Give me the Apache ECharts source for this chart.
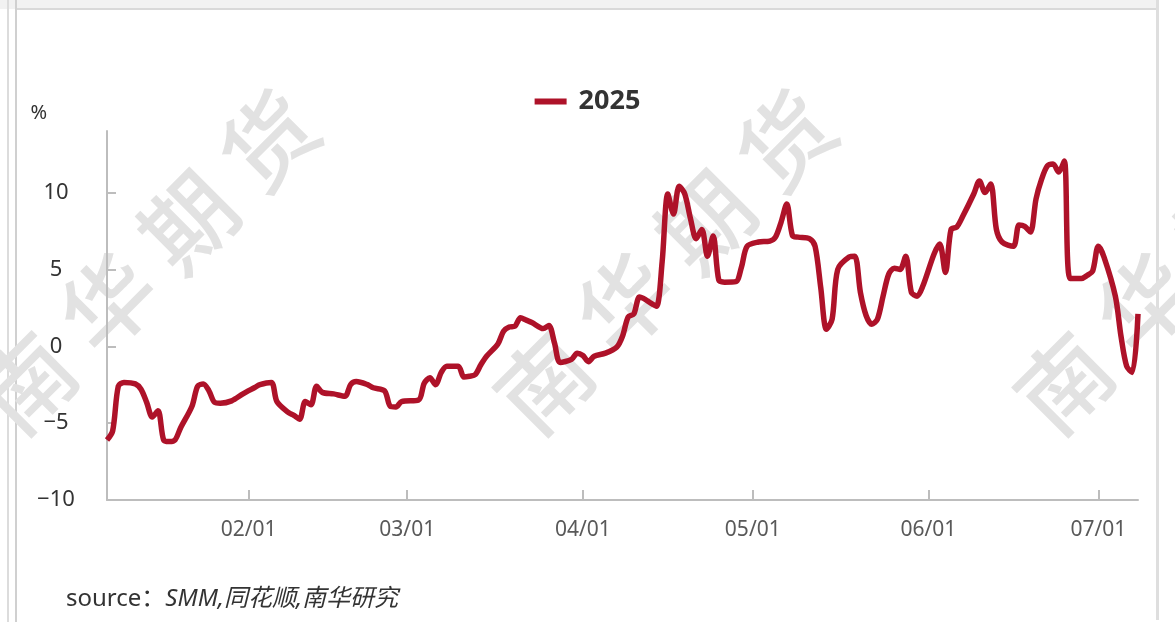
<!DOCTYPE html>
<html>
<head>
<meta charset="utf-8">
<script src="https://cdn.jsdelivr.net/npm/echarts@6/dist/echarts.min.js"></script>
<style>
html,body{margin:0;padding:0;background:#fff;}
#chart{width:1175px;height:622px;}
</style>
</head>
<body>
<div id="chart"></div>
<script>
const seriesName = '2025';
const dates = [
 '2025-01-07','2025-01-08','2025-01-09','2025-01-10','2025-01-12','2025-01-13','2025-01-14','2025-01-15','2025-01-16','2025-01-17',
 '2025-01-18','2025-01-19','2025-01-20','2025-01-22','2025-01-23','2025-01-24','2025-01-25','2025-01-26','2025-01-27','2025-01-29',
 '2025-01-31','2025-02-02','2025-02-03','2025-02-05','2025-02-06','2025-02-08','2025-02-09','2025-02-10','2025-02-11','2025-02-12',
 '2025-02-13','2025-02-14','2025-02-16','2025-02-18','2025-02-19','2025-02-20','2025-02-22','2025-02-23','2025-02-25','2025-02-26',
 '2025-02-27','2025-02-28','2025-03-03','2025-03-04','2025-03-05','2025-03-06','2025-03-07','2025-03-08','2025-03-10','2025-03-11',
 '2025-03-12','2025-03-13','2025-03-14','2025-03-15','2025-03-17','2025-03-18','2025-03-19','2025-03-20','2025-03-21','2025-03-22',
 '2025-03-23','2025-03-25','2025-03-26','2025-03-27','2025-03-28','2025-03-30','2025-03-31','2025-04-01','2025-04-02','2025-04-03',
 '2025-04-05','2025-04-07','2025-04-08','2025-04-09','2025-04-10','2025-04-11','2025-04-12','2025-04-13','2025-04-14','2025-04-15',
 '2025-04-16','2025-04-17','2025-04-18','2025-04-19','2025-04-20','2025-04-21','2025-04-22','2025-04-23','2025-04-24','2025-04-25',
 '2025-04-26','2025-04-28','2025-04-29','2025-04-30','2025-05-02','2025-05-04','2025-05-05','2025-05-06','2025-05-07','2025-05-08',
 '2025-05-09','2025-05-11','2025-05-12','2025-05-13','2025-05-14','2025-05-15','2025-05-16','2025-05-18','2025-05-19','2025-05-20',
 '2025-05-21','2025-05-22','2025-05-23','2025-05-24','2025-05-25','2025-05-26','2025-05-27','2025-05-28','2025-05-29','2025-05-30',
 '2025-05-31','2025-06-02','2025-06-03','2025-06-04','2025-06-05','2025-06-06','2025-06-07','2025-06-09','2025-06-10','2025-06-11',
 '2025-06-12','2025-06-13','2025-06-14','2025-06-16','2025-06-17','2025-06-18','2025-06-19','2025-06-20','2025-06-21','2025-06-22',
 '2025-06-23','2025-06-24','2025-06-25','2025-06-26','2025-06-28','2025-06-29','2025-06-30','2025-07-01','2025-07-02','2025-07-04',
 '2025-07-05','2025-07-06','2025-07-07','2025-07-08'
];
const values = [
 -6.1,-5.5,-2.6,-2.35,-2.45,-2.8,-3.65,-4.6,-4.2,-6.1,
 -6.2,-6.1,-5.3,-3.9,-2.6,-2.45,-2.9,-3.65,-3.7,-3.55,
 -3.1,-2.7,-2.5,-2.35,-3.6,-4.3,-4.5,-4.75,-3.6,-3.8,
 -2.6,-3.0,-3.1,-3.25,-2.5,-2.3,-2.5,-2.7,-2.9,-3.9,
 -3.95,-3.6,-3.5,-2.4,-2.05,-2.5,-1.7,-1.3,-1.3,-2.0,
 -1.95,-1.85,-1.2,-0.65,0.15,0.98,1.25,1.3,1.85,1.7,
 1.55,1.15,1.35,0.2,-1.05,-0.85,-0.45,-0.6,-1.0,-0.65,
 -0.45,-0.05,0.65,1.9,2.1,3.2,3.05,2.8,2.6,5.5,
 9.9,8.6,10.4,9.9,8.3,7.0,7.6,5.86,7.17,4.3,
 4.17,4.2,5.15,6.5,6.78,6.84,7.1,8.08,9.25,7.2,
 7.1,7.0,6.5,3.8,1.1,1.76,5.0,5.8,5.86,3.5,
 2.0,1.43,1.76,3.26,4.69,5.08,5.0,5.86,3.5,3.26,
 3.9,6.0,6.65,4.8,7.6,7.75,8.4,9.9,10.75,10.0,
 10.55,7.6,6.78,6.5,7.88,7.8,7.43,9.58,10.88,11.73,
 11.86,11.33,12.05,4.4,4.4,4.6,4.9,6.5,5.8,3.26,
 0.65,-1.3,-1.7,2.1
];
const axisStart = '2025-01-07';
const axisEnd = '2025-07-08';
const monthTicks = ['2025-02-01','2025-03-01','2025-04-01','2025-05-01','2025-06-01','2025-07-01'];
const yTicks = [-10,-5,0,5,10];
const watermarkText = '南华期货';
const sourceLabel = 'source：';
const sourceText = 'SMM,同花顺,南华研究';

function fmt(d) {
  return d.getUTCFullYear() + '-' + String(d.getUTCMonth() + 1).padStart(2, '0') + '-' + String(d.getUTCDate()).padStart(2, '0');
}
const categories = [];
for (let t = Date.parse(axisStart + 'T00:00:00Z'); t <= Date.parse(axisEnd + 'T00:00:00Z'); t += 86400000) {
  categories.push(fmt(new Date(t)));
}
const valueByDate = {};
dates.forEach((d, i) => { valueByDate[d] = values[i]; });
const seriesData = categories.map(c => (c in valueByDate ? valueByDate[c] : null));
const tickSet = new Set(monthTicks);

const chart = echarts.init(document.getElementById('chart'));
const lineColor = '#ae1229';

function watermark(cx, cy) {
  const chars = watermarkText.split('');
  return {
    type: 'group', x: cx, y: cy, rotation: Math.PI / 4, silent: true, z: 0,
    children: chars.map((c, i) => ({
      type: 'text', x: (i - 1.5) * 114, y: 0,
      style: { text: c, font: '500 92px "Noto Sans CJK SC"', fill: '#e2e2e2', align: 'center', verticalAlign: 'middle' }
    }))
  };
}

chart.setOption({
  animation: false,
  backgroundColor: '#fff',
  graphic: [
    { type: 'rect', shape: { x: 0, y: 0, width: 1157, height: 9 }, style: { fill: '#f2f2f2' }, z: 0, silent: true },
    { type: 'rect', shape: { x: 17, y: 8, width: 1140, height: 2 }, style: { fill: '#d9d9d9' }, z: 0, silent: true },
    { type: 'rect', shape: { x: 7, y: 0, width: 2, height: 622 }, style: { fill: '#dcdcdc' }, z: 0, silent: true },
    { type: 'rect', shape: { x: 15, y: 0, width: 2, height: 622 }, style: { fill: '#d0d0d0' }, z: 0, silent: true },
    { type: 'rect', shape: { x: 1156, y: 0, width: 3, height: 620 }, style: { fill: '#dedede' }, z: 0, silent: true },
    watermark(148, 262),
    watermark(665, 262),
    watermark(1185, 262),
    {
      type: 'text', left: 66, top: 587, silent: true,
      style: {
        text: '{a|' + sourceLabel + '}{b|' + sourceText + '}',
        rich: {
          a: { font: '24px "Noto Sans", "Noto Sans CJK SC"', fill: '#333' },
          b: { font: 'italic 24px "Noto Sans", "Noto Sans CJK SC"', fill: '#333' }
        }
      }
    }
  ],
  legend: {
    top: 83, left: 'center',
    itemWidth: 32, itemHeight: 14,
    textStyle: { fontFamily: 'Noto Sans', fontSize: 27, fontWeight: 'bold', color: '#333', padding: [0, 0, 0, 7] },
    data: [{ name: seriesName, icon: 'path://M0,0H32V6H0Z' }]
  },
  grid: { left: 107, right: 37, top: 131, bottom: 122, containLabel: false },
  xAxis: {
    type: 'category',
    data: categories,
    boundaryGap: false,
    axisLine: { onZero: false, lineStyle: { color: '#bdbdbd', width: 2 } },
    axisTick: {
      show: true, inside: true, length: 10, alignWithLabel: true,
      interval: function (idx, val) { return tickSet.has(val); },
      lineStyle: { color: '#bdbdbd', width: 2 }
    },
    axisLabel: {
      interval: function (idx, val) { return tickSet.has(val); },
      margin: 20,
      fontFamily: 'Noto Sans', fontSize: 21, color: '#595959',
      formatter: function (v) { return v.slice(5, 7) + '/' + v.slice(8, 10); }
    },
    splitLine: { show: false }
  },
  yAxis: {
    type: 'value', min: -10, max: 14, interval: 5,
    name: '%',
    nameLocation: 'end', nameGap: 8,
    nameTextStyle: { fontFamily: 'Noto Sans', fontSize: 20, color: '#333', align: 'right', padding: [0, 60, 0, 0] },
    axisLine: { show: true, lineStyle: { color: '#bdbdbd', width: 2 } },
    axisTick: { show: true, inside: true, length: 9, lineStyle: { color: '#bdbdbd', width: 2 } },
    axisLabel: {
      showMaxLabel: false,
      align: 'center', margin: 51,
      fontFamily: 'Noto Sans', fontSize: 22, color: '#333',
      formatter: function (v) { return yTicks.indexOf(v) >= 0 ? (v < 0 ? '\u2212' + Math.abs(v) : String(v)) : ''; }
    },
    splitLine: { show: false }
  },
  series: [{
    name: seriesName,
    type: 'line',
    data: seriesData,
    connectNulls: true,
    showSymbol: false,
    smooth: 0.3,
    z: 5,
    lineStyle: { color: lineColor, width: 5.5 },
    itemStyle: { color: lineColor }
  }]
});
</script>
</body>
</html>
